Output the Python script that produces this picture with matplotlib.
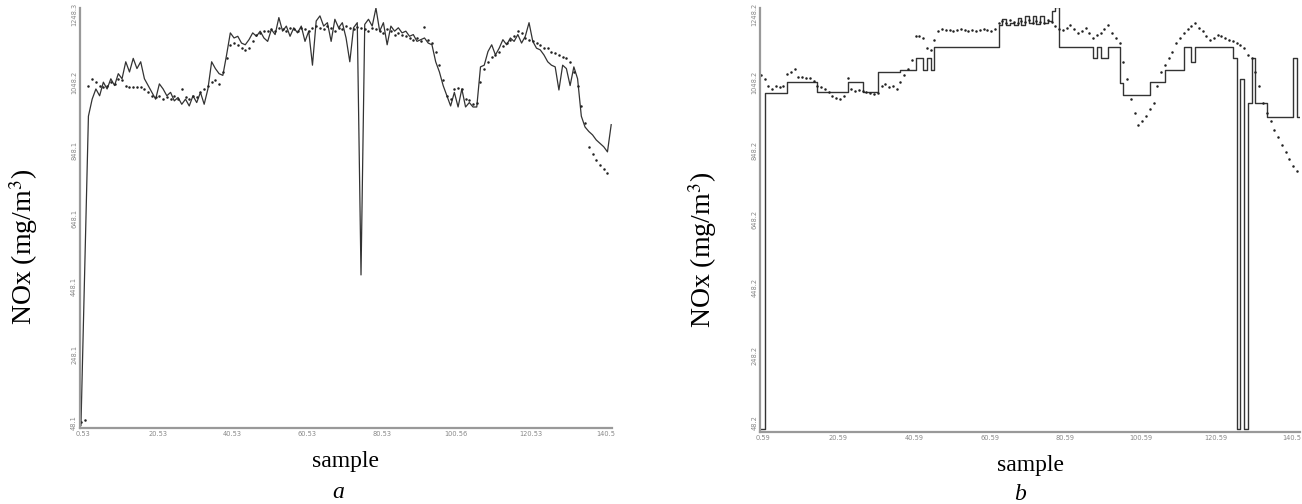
import numpy as np
import matplotlib
matplotlib.use("Agg")
import matplotlib.pyplot as plt

plt.rcParams["mathtext.fontset"] = "stix"

# ---- panel a : measured (solid) and predicted (dots) NOx ----
meas_a = [40, 500, 950, 1000, 1030, 1010, 1050, 1030, 1060, 1040,
          1075, 1060, 1110, 1080, 1120, 1090, 1110, 1060, 1040, 1020,
          1000, 1045, 1030, 1010, 1020, 995, 1005, 985, 1000, 980,
          1010, 990, 1020, 985, 1030, 1110, 1090, 1075, 1070, 1130,
          1195, 1180, 1185, 1165, 1160, 1175, 1195, 1185, 1200, 1180,
          1170, 1205, 1190, 1240, 1200, 1215, 1185, 1210, 1195, 1215,
          1170, 1200, 1100, 1230, 1245, 1215, 1225, 1170, 1235, 1210,
          1225, 1180, 1110, 1210, 1225, 483, 1220, 1235, 1215, 1268,
          1200, 1225, 1160, 1215, 1200, 1210, 1195, 1200, 1185, 1190,
          1170, 1175, 1180, 1165, 1160, 1110, 1080, 1040, 1010, 980,
          1020, 977, 1030, 977, 990, 977, 977, 1095, 1100, 1140,
          1160, 1130, 1150, 1175, 1160, 1180, 1170, 1190, 1165, 1185,
          1225, 1170, 1150, 1145, 1130, 1110, 1100, 1095, 1027, 1100,
          1090, 1040, 1095, 1060, 950, 918, 905, 895, 880, 870,
          860, 845, 925]
pred_a = [50, 55, 1040, 1060, 1050, 1040, 1035, 1040, 1050, 1045,
          1060, 1055, 1040, 1035, 1035, 1035, 1035, 1030, 1020, 1010,
          1005, 1010, 1000, 1005, 1000, 1010, 1000, 1030, 1005, 1000,
          1010, 1005, 1020, 1030, 1040, 1050, 1055, 1045, 1080, 1120,
          1160, 1165, 1160, 1150, 1145, 1150, 1170, 1190, 1195, 1200,
          1200, 1205, 1200, 1210, 1205, 1200, 1210, 1205, 1200, 1210,
          1205, 1200, 1210, 1215, 1210, 1205, 1215, 1210, 1200, 1210,
          1205, 1215, 1210, 1205, 1212, 1210, 1205, 1200, 1210, 1205,
          1200, 1195, 1205, 1200, 1190, 1195, 1190, 1185, 1180, 1175,
          1180, 1170, 1212, 1175, 1165, 1140, 1100, 1056, 1010, 1000,
          1030, 1033, 1030, 1000, 998, 985, 990, 1050, 1090, 1110,
          1124, 1130, 1140, 1155, 1165, 1175, 1185, 1200, 1195, 1180,
          1175, 1170, 1165, 1160, 1150, 1150, 1140, 1135, 1130, 1125,
          1120, 1110, 1080, 1040, 980, 930, 860, 840, 820, 805,
          795, 783]

# ---- panel b ----
meas_b = [30, 1018, 1018, 1018, 1018, 1018, 1018, 1050, 1050, 1050,
          1050, 1050, 1050, 1050, 1050, 1021, 1021, 1021, 1021, 1021,
          1021, 1021, 1021, 1050, 1050, 1050, 1050, 1021, 1021, 1021,
          1021, 1080, 1080, 1080, 1080, 1080, 1080, 1086, 1086, 1086,
          1086, 1121, 1121, 1086, 1121, 1086, 1153, 1153, 1153, 1153,
          1153, 1153, 1153, 1153, 1153, 1153, 1153, 1153, 1153, 1153,
          1153, 1153, 1153, 1218, 1235, 1218, 1225, 1218, 1240, 1218,
          1245, 1225, 1245, 1220, 1245, 1225, 1230, 1260, 1270, 1153,
          1153, 1153, 1153, 1153, 1153, 1153, 1153, 1153, 1121, 1153,
          1121, 1121, 1153, 1153, 1153, 1048, 1012, 1012, 1012, 1012,
          1012, 1012, 1012, 1050, 1050, 1050, 1050, 1086, 1086, 1086,
          1086, 1086, 1153, 1153, 1109, 1153, 1153, 1153, 1153, 1153,
          1153, 1153, 1153, 1153, 1153, 1120, 30, 1060, 30, 989,
          1121, 989, 989, 989, 948, 948, 948, 948, 948, 948,
          948, 1121, 948, 1040]
pred_b = [1070, 1060, 1040, 1030, 1040, 1035, 1040, 1075, 1080, 1090,
          1065, 1065, 1062, 1062, 1055, 1040, 1036, 1030, 1020, 1010,
          1005, 1000, 1010, 1062, 1030, 1025, 1028, 1025, 1020, 1018,
          1015, 1018, 1040, 1045, 1035, 1040, 1030, 1050, 1070, 1090,
          1115, 1185, 1185, 1180, 1150, 1145, 1175, 1200, 1205, 1203,
          1203, 1200, 1203, 1205, 1203, 1200, 1203, 1200, 1203, 1205,
          1203, 1200, 1205, 1225, 1230, 1224, 1233, 1228, 1224, 1230,
          1226, 1233, 1224, 1230, 1228, 1224, 1233, 1226, 1215, 1205,
          1203, 1210, 1218, 1205, 1194, 1200, 1209, 1195, 1180, 1188,
          1194, 1205, 1218, 1195, 1180, 1165, 1110, 1060, 1000, 960,
          925, 935, 950, 970, 990, 1040, 1080, 1100, 1120, 1140,
          1165, 1180, 1195, 1205, 1215, 1225, 1210, 1200, 1185, 1175,
          1180, 1190, 1185, 1180, 1175, 1170, 1165, 1160, 1150, 1130,
          1120, 1080, 1040, 990, 960, 935, 910, 890, 865, 845,
          825, 805, 790]

xticks_a = [0.53, 20.53, 40.53, 60.53, 80.53, 100.53, 120.53, 140.53]
xlabels_a = ["0.53", "20.53", "40.53", "60.53", "80.53", "100.56", "120.53", "140.5"]
xticks_b = [0.59, 20.59, 40.59, 60.59, 80.59, 100.59, 120.59, 140.59]
xlabels_b = ["0.59", "20.59", "40.59", "60.59", "80.59", "100.59", "120.59", "140.5"]
yticks = [48.1, 248.1, 448.1, 648.1, 848.1, 1048.2, 1248.2]
ylabels_a = ["48.1", "248.1", "448.1", "648.1", "848.1", "1048.2", "1248.3"]
ylabels_b = ["48.2", "248.2", "448.2", "648.2", "848.2", "1048.2", "1248.2"]

serif = ["Liberation Serif", "DejaVu Serif"]

fig = plt.figure(figsize=(13.02, 5.04), dpi=100)
ax1 = fig.add_axes([0.0614, 0.151, 0.4086, 0.833])
ax2 = fig.add_axes([0.5837, 0.143, 0.4148, 0.841])


def style(ax, xt, xl, yl, xlim, ylim):
    for s in ["top", "right"]:
        ax.spines[s].set_visible(False)
    for s in ["left", "bottom"]:
        ax.spines[s].set_color("#999999")
        ax.spines[s].set_linewidth(1.6)
    ax.set_xlim(*xlim)
    ax.set_ylim(*ylim)
    ax.set_xticks(xt)
    ax.set_xticklabels(xl, fontsize=4.8, color="#888888")
    ax.set_yticks(yticks)
    ax.set_yticklabels(yl, fontsize=4.8, color="#888888", rotation=90, va="center")
    ax.tick_params(length=0, pad=2)
    ax.set_xlabel("sample", fontsize=17, family=serif, labelpad=10)
    ax.set_ylabel("NOx (mg/m$^3$)", fontsize=20, family=serif)
    ax.yaxis.set_label_coords(-0.076, 0.43)


xa = np.arange(len(meas_a))
ax1.plot(xa, meas_a, color="#333333", lw=0.9)
ax1.plot(np.arange(len(pred_a)), pred_a, ls="none", marker=".", ms=1.6, color="#222222")
style(ax1, xticks_a, xlabels_a, ylabels_a, (-0.27, 142.2), (33, 1268))

xb = np.arange(len(meas_b))
ax2.plot(xb, meas_b, color="#333333", lw=1.0, drawstyle="steps-post")
ax2.plot(np.arange(len(pred_b)), pred_b, ls="none", marker=".", ms=1.6, color="#222222")
style(ax2, xticks_b, xlabels_b, ylabels_b, (-0.2, 142.8), (22, 1268))

fig.text(0.2596, 0.012, "a", fontsize=17, family=serif, style="italic", ha="center")
fig.text(0.7834, 0.008, "b", fontsize=17, family=serif, style="italic", ha="center")

fig.savefig("out.png", dpi=100)
